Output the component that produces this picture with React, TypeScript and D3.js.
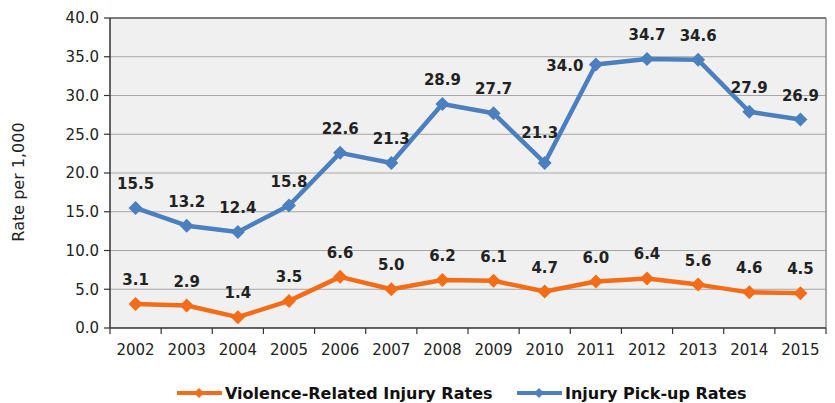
import * as d3 from "d3"

const years = ["2002", "2003", "2004", "2005", "2006", "2007", "2008", "2009", "2010", "2011", "2012", "2013", "2014", "2015"]
const violence = [3.1, 2.9, 1.4, 3.5, 6.6, 5.0, 6.2, 6.1, 4.7, 6.0, 6.4, 5.6, 4.6, 4.5]
const pickup = [15.5, 13.2, 12.4, 15.8, 22.6, 21.3, 28.9, 27.7, 21.3, 34.0, 34.7, 34.6, 27.9, 26.9]
const yTicks = [0, 5, 10, 15, 20, 25, 30, 35, 40]

const ORANGE = "#f36c17"
const BLUE = "#4b7fbe"
const FONT = "'DejaVu Sans', Verdana, sans-serif"

const W = 835, H = 403
const M = { left: 110, right: 826, top: 18, bottom: 328 }

export default function App() {
  const x = d3.scaleBand<string>().domain(years).range([M.left, M.right])
  const y = d3.scaleLinear().domain([0, 40]).range([M.bottom, M.top])
  const cx = (i: number) => x(years[i])! + x.bandwidth() / 2
  const line = d3.line<number>().x((_, i) => cx(i)).y(d => y(d))
  const diamond = (px: number, py: number, r = 7) =>
    `M${px},${py - r}L${px + r},${py}L${px},${py + r}L${px - r},${py}Z`

  const series = [
    { data: pickup, color: BLUE },
    { data: violence, color: ORANGE },
  ]

  // a couple of labels sit off the usual spot above the point
  const labelPos = (s: number[], i: number, v: number) => {
    if (s === pickup && years[i] === "2011") return [cx(i) - 31, y(v) + 6]
    if (s === pickup && years[i] === "2010") return [cx(i) - 5, y(v) - 25]
    return [cx(i), y(v) - 19]
  }

  return (
    <svg width={W} height={H} style={{ position: "absolute", left: 0, top: 0, background: "#fff" }}>
      <rect x={M.left} y={M.top} width={M.right - M.left} height={M.bottom - M.top} fill="#f0f0f0" />
      {yTicks.slice(1).map(t => (
        <line key={t} x1={M.left} x2={M.right} y1={y(t)} y2={y(t)} stroke="#a6a6a6" strokeWidth={1.2} />
      ))}
      <line x1={M.right} x2={M.right} y1={M.top} y2={M.bottom} stroke="#8c8c8c" strokeWidth={1.5} />
      <line x1={M.left} x2={M.right} y1={M.top} y2={M.top} stroke="#606060" strokeWidth={1.5} />
      <line x1={M.left} x2={M.left} y1={M.top} y2={M.bottom} stroke="#333" strokeWidth={1.5} />
      <line x1={M.left} x2={M.right} y1={M.bottom} y2={M.bottom} stroke="#333" strokeWidth={1.5} />
      {yTicks.map(t => (
        <g key={t}>
          <line x1={M.left - 6} x2={M.left} y1={y(t)} y2={y(t)} stroke="#333" strokeWidth={1.2} />
          <text x={M.left - 11} y={y(t)} dy="0.36em" textAnchor="end" fontFamily={FONT} fontSize={15} fill="#222">
            {t.toFixed(1)}
          </text>
        </g>
      ))}
      {years.map((yr, i) => (
        <g key={yr}>
          <line x1={x(yr)!} x2={x(yr)!} y1={M.bottom} y2={M.bottom + 6} stroke="#333" strokeWidth={1.2} />
          <text x={cx(i)} y={M.bottom + 27} textAnchor="middle" fontFamily={FONT} fontSize={15} fill="#222">{yr}</text>
        </g>
      ))}
      <line x1={M.right} x2={M.right} y1={M.bottom} y2={M.bottom + 6} stroke="#333" strokeWidth={1.2} />
      <text transform={`translate(24,${(M.top + M.bottom) / 2 + 9}) rotate(-90)`} textAnchor="middle"
        fontFamily={FONT} fontSize={16} fill="#222">Rate per 1,000</text>

      {series.map(s => (
        <g key={s.color}>
          <path d={line(s.data)!} fill="none" stroke={s.color} strokeWidth={4.5} strokeLinejoin="round" />
          {s.data.map((v, i) => (
            <path key={i} d={diamond(cx(i), y(v))} fill={s.color} />
          ))}
          {s.data.map((v, i) => {
            const [lx, ly] = labelPos(s.data, i, v)
            return (
              <text key={"l" + i} x={lx} y={ly}
                textAnchor="middle" fontFamily={FONT} fontWeight="bold" fontSize={15} fill="#222">
                {v.toFixed(1)}
              </text>
            )
          })}
        </g>
      ))}

      {[
        { label: "Violence-Related Injury Rates", color: ORANGE, x0: 177 },
        { label: "Injury Pick-up Rates", color: BLUE, x0: 517 },
      ].map(l => (
        <g key={l.label}>
          <line x1={l.x0} x2={l.x0 + 45} y1={393} y2={393} stroke={l.color} strokeWidth={4} />
          <path d={diamond(l.x0 + 22, 393, 5)} fill={l.color} />
          <text x={l.x0 + 48} y={393} dy="0.36em" fontFamily={FONT} fontWeight="bold" fontSize={16} fill="#111">{l.label}</text>
        </g>
      ))}
    </svg>
  )
}
